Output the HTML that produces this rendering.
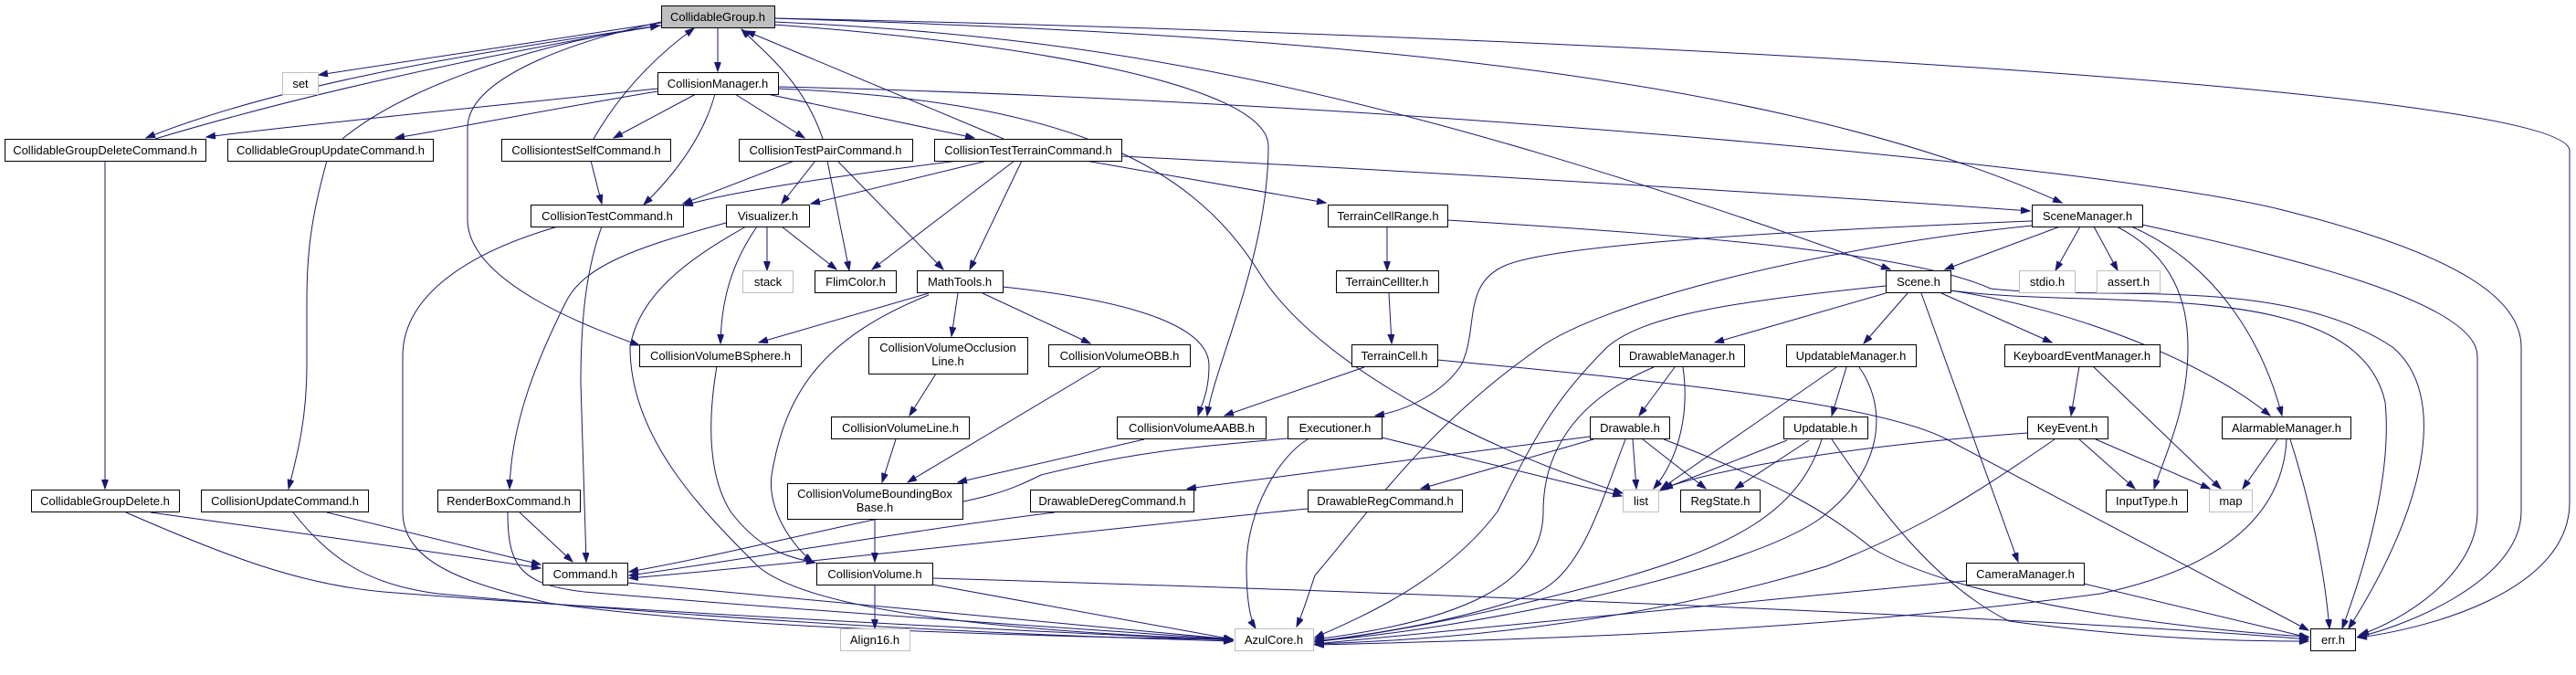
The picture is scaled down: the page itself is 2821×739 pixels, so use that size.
<!DOCTYPE html>
<html><head><meta charset="utf-8"><style>
html,body{margin:0;padding:0;background:#fff;}
svg{display:block;}
text{font-family:"Liberation Sans",sans-serif;font-size:13px;fill:#000;}
.n{fill:#fff;stroke:#000;stroke-width:1;}
.g{fill:#fff;stroke:#bfbfbf;stroke-width:1;}
.e{fill:none;stroke:#191970;stroke-width:1;marker-end:url(#a);}
</style></head><body>
<svg width="2821" height="739" viewBox="0 0 2821 739" xmlns="http://www.w3.org/2000/svg">
<defs><marker id="a" markerWidth="11" markerHeight="8" refX="10" refY="3.5" orient="auto" markerUnits="userSpaceOnUse"><path d="M0,0 L10,3.5 L0,7 z" fill="#191970" stroke="#191970"/></marker></defs>
<g>
<path class="e" d="M724,25 L349,82"/>
<path class="e" d="M724,28 C500,60 300,95 160,151"/>
<path class="e" d="M170,152 C310,110 500,65 722,28"/>
<path class="e" d="M786,30 L786,78"/>
<path class="e" d="M848,20 C1800,40 2814,100 2814,165 L2814,550 C2814,650 2650,690 2582,698"/>
<path class="e" d="M848,20 C1300,35 1900,60 2258,222"/>
<path class="e" d="M848,24 C1200,40 1500,90 2070,295"/>
<path class="e" d="M848,27 C1100,45 1389,90 1389,160 C1389,280 1330,400 1322,455"/>
<path class="e" d="M724,24 C650,40 512,80 512,140 L512,240 C512,310 650,360 700,378"/>
<path class="e" d="M720,97 C500,120 300,140 226,150"/>
<path class="e" d="M720,100 C600,120 500,140 433,151"/>
<path class="e" d="M375,152 C450,90 600,45 722,28"/>
<path class="e" d="M650,152 C680,100 720,60 760,31"/>
<path class="e" d="M762,103 L672,151"/>
<path class="e" d="M783,103 C770,150 740,190 705,224"/>
<path class="e" d="M647,176 L659,223"/>
<path class="e" d="M805,103 L881,151"/>
<path class="e" d="M840,103 L1067,151"/>
<path class="e" d="M852,95 C1500,110 2300,180 2500,230 C2700,280 2761,330 2761,380 L2761,560 C2761,640 2620,690 2582,697"/>
<path class="e" d="M852,97 C1150,110 1300,170 1380,300 C1450,410 1650,500 1777,540"/>
<path class="e" d="M901,152 C880,90 840,60 812,32"/>
<path class="e" d="M870,176 L748,223"/>
<path class="e" d="M893,176 L856,223"/>
<path class="e" d="M906,176 L930,296"/>
<path class="e" d="M917,176 L1033,295"/>
<path class="e" d="M1099,152 L817,34"/>
<path class="e" d="M1049,176 C900,195 800,210 749,225"/>
<path class="e" d="M1081,176 L888,223"/>
<path class="e" d="M1111,176 L955,295"/>
<path class="e" d="M1119,176 L1062,295"/>
<path class="e" d="M1189,176 L1452,222"/>
<path class="e" d="M1228,171 C1600,190 2000,215 2223,231"/>
<path class="e" d="M659,248 C640,300 636,360 636,420 C638,500 640,560 642,615"/>
<path class="e" d="M611,248 C500,280 441,330 441,390 L441,560 C441,620 520,640 600,660 C800,690 1200,698 1350,700"/>
<path class="e" d="M115,176 L115,535"/>
<path class="e" d="M358,176 C340,240 336,280 336,330 L336,400 C336,460 325,500 316,535"/>
<path class="e" d="M165,561 C300,580 450,600 592,622"/>
<path class="e" d="M138,561 C250,610 330,640 420,648 C700,670 1100,690 1350,701"/>
<path class="e" d="M358,561 L592,618"/>
<path class="e" d="M321,561 C360,610 400,640 480,650 C800,680 1100,695 1350,702"/>
<path class="e" d="M569,561 L627,615"/>
<path class="e" d="M556,561 C556,620 570,640 640,648 C900,670 1200,690 1350,700"/>
<path class="e" d="M687,638 L1350,700"/>
<path class="e" d="M795,244 C700,270 640,290 620,330 C590,390 560,460 558,535"/>
<path class="e" d="M840,248 L840,296"/>
<path class="e" d="M856,248 L916,295"/>
<path class="e" d="M829,248 C800,290 790,330 789,376"/>
<path class="e" d="M817,248 C760,280 700,320 690,380 C690,480 770,560 830,620 C900,680 1200,695 1350,700"/>
<path class="e" d="M1017,321 L831,375"/>
<path class="e" d="M1049,321 L1042,368"/>
<path class="e" d="M1076,321 L1194,376"/>
<path class="e" d="M1098,314 C1250,330 1324,360 1324,400 C1324,430 1315,445 1312,455"/>
<path class="e" d="M1017,323 C900,370 860,430 845,520 C840,560 870,600 890,615"/>
<path class="e" d="M1025,409 L996,455"/>
<path class="e" d="M981,481 L966,528"/>
<path class="e" d="M1205,402 L994,528"/>
<path class="e" d="M1253,481 L1049,528"/>
<path class="e" d="M958,568 L958,615"/>
<path class="e" d="M785,401 C775,460 775,520 800,560 C830,600 860,610 893,616"/>
<path class="e" d="M958,641 L958,688"/>
<path class="e" d="M1021,640 L1350,700"/>
<path class="e" d="M1021,633 C1600,650 2300,680 2528,700"/>
<path class="e" d="M1519,248 L1519,296"/>
<path class="e" d="M1585,241 C1900,260 2100,280 2180,316 C2300,330 2500,300 2620,380 C2680,430 2660,550 2572,688"/>
<path class="e" d="M2136,318 C2300,340 2580,300 2612,440 C2620,520 2590,620 2565,688"/>
<path class="e" d="M1521,321 L1524,376"/>
<path class="e" d="M1494,402 L1341,455"/>
<path class="e" d="M1574,394 C1800,415 2050,440 2130,480 L2528,690"/>
<path class="e" d="M2256,248 L2130,295"/>
<path class="e" d="M2278,248 L2251,296"/>
<path class="e" d="M2293,248 L2319,296"/>
<path class="e" d="M2318,248 C2380,280 2396,330 2396,380 C2396,450 2370,500 2359,535"/>
<path class="e" d="M2334,248 C2430,290 2480,380 2499,455"/>
<path class="e" d="M2346,246 C2500,280 2713,330 2713,390 L2713,560 C2713,630 2630,680 2584,695"/>
<path class="e" d="M2225,242 C1900,255 1700,270 1650,290 C1600,310 1620,360 1600,400 C1580,430 1540,450 1506,455"/>
<path class="e" d="M2225,247 C2000,270 1750,330 1680,385 C1560,470 1500,560 1440,630 C1430,660 1425,675 1420,686"/>
<path class="e" d="M2065,321 L1878,375"/>
<path class="e" d="M2089,321 L2041,376"/>
<path class="e" d="M2126,321 L2247,375"/>
<path class="e" d="M2104,321 L2210,615"/>
<path class="e" d="M2136,318 C2280,340 2420,400 2486,455"/>
<path class="e" d="M2065,313 C1900,330 1800,345 1760,380 C1700,440 1680,480 1640,560 C1580,640 1480,680 1440,698"/>
<path class="e" d="M1834,402 L1795,455"/>
<path class="e" d="M1843,402 C1850,450 1840,500 1811,535"/>
<path class="e" d="M1811,402 C1720,440 1690,500 1690,560 C1690,640 1600,680 1440,700"/>
<path class="e" d="M2022,402 L2006,455"/>
<path class="e" d="M2011,402 L1819,535"/>
<path class="e" d="M2036,402 C2070,450 2060,520 1990,570 C1900,630 1600,690 1440,702"/>
<path class="e" d="M1788,481 L1792,535"/>
<path class="e" d="M1799,481 L1868,535"/>
<path class="e" d="M1741,478 L1300,535"/>
<path class="e" d="M1745,481 L1556,535"/>
<path class="e" d="M1780,481 C1750,560 1730,630 1680,650 C1600,680 1500,695 1440,702"/>
<path class="e" d="M1822,481 C1950,530 2000,560 2050,600 C2150,660 2400,690 2528,697"/>
<path class="e" d="M1957,482 L1822,535"/>
<path class="e" d="M1981,482 L1900,535"/>
<path class="e" d="M1995,481 C1970,560 1900,600 1750,640 C1600,680 1500,695 1440,703"/>
<path class="e" d="M2006,481 C2060,560 2120,640 2200,680 C2350,700 2450,702 2528,702"/>
<path class="e" d="M2277,401 L2268,455"/>
<path class="e" d="M2292,401 L2432,535"/>
<path class="e" d="M2277,481 L2338,535"/>
<path class="e" d="M2295,481 L2420,535"/>
<path class="e" d="M2220,474 C2000,490 1850,520 1818,537"/>
<path class="e" d="M2250,481 C2150,550 2100,580 2000,620 C1800,680 1600,700 1440,705"/>
<path class="e" d="M2494,481 L2456,535"/>
<path class="e" d="M2508,481 C2530,550 2545,620 2551,688"/>
<path class="e" d="M2504,481 C2500,560 2440,620 2300,650 C2000,690 1700,700 1440,706"/>
<path class="e" d="M2153,636 C1900,660 1600,690 1440,705"/>
<path class="e" d="M2282,639 L2528,698"/>
<path class="e" d="M1513,479 L1776,543"/>
<path class="e" d="M1410,480 C1300,490 1240,495 1140,520 C1100,540 1080,545 1000,560 C900,580 780,610 689,626"/>
<path class="e" d="M1432,481 C1400,500 1365,560 1365,620 C1365,660 1370,680 1375,688"/>
<path class="e" d="M1155,561 C1000,580 800,615 689,630"/>
<path class="e" d="M1432,557 C1200,580 900,615 689,633"/>
</g>
<g text-anchor="middle">
<rect x="724.5" y="6.5" width="124" height="24" fill="#bfbfbf" stroke="#000"/><text x="786" y="23">CollidableGroup.h</text>
<rect class="g" x="309.5" y="79.5" width="39" height="24"/><text x="329" y="96">set</text>
<rect class="n" x="5.5" y="152.5" width="220" height="24"/><text x="115" y="169">CollidableGroupDeleteCommand.h</text>
<rect class="n" x="249.5" y="152.5" width="225" height="24"/><text x="362" y="169">CollidableGroupUpdateCommand.h</text>
<rect class="n" x="549.5" y="152.5" width="185" height="24"/><text x="642" y="169">CollisiontestSelfCommand.h</text>
<rect class="n" x="720.5" y="79.5" width="132" height="24"/><text x="786" y="96">CollisionManager.h</text>
<rect class="n" x="809.5" y="152.5" width="190" height="24"/><text x="904" y="169">CollisionTestPairCommand.h</text>
<rect class="n" x="1023.5" y="152.5" width="205" height="24"/><text x="1126" y="169">CollisionTestTerrainCommand.h</text>
<rect class="n" x="581.5" y="224.5" width="167" height="24"/><text x="665" y="241">CollisionTestCommand.h</text>
<rect class="n" x="795.5" y="224.5" width="91" height="24"/><text x="841" y="241">Visualizer.h</text>
<rect class="g" x="813.5" y="296.5" width="55" height="24"/><text x="841" y="313">stack</text>
<rect class="n" x="892.5" y="296.5" width="89" height="24"/><text x="937" y="313">FlimColor.h</text>
<rect class="n" x="1004.5" y="296.5" width="94" height="24"/><text x="1051" y="313">MathTools.h</text>
<rect class="n" x="700.5" y="377.5" width="177" height="24"/><text x="789" y="394">CollisionVolumeBSphere.h</text>
<rect class="n" x="951.5" y="369.5" width="174" height="40"/><text x="1038" y="385">CollisionVolumeOcclusion</text><text x="1038" y="400">Line.h</text>
<rect class="n" x="1148.5" y="377.5" width="155" height="24"/><text x="1226" y="394">CollisionVolumeOBB.h</text>
<rect class="n" x="910.5" y="456.5" width="151" height="24"/><text x="986" y="473">CollisionVolumeLine.h</text>
<rect class="n" x="1223.5" y="456.5" width="163" height="24"/><text x="1305" y="473">CollisionVolumeAABB.h</text>
<rect class="n" x="1410.5" y="456.5" width="103" height="24"/><text x="1462" y="473">Executioner.h</text>
<rect class="n" x="862.5" y="529.5" width="192" height="39"/><text x="958" y="545">CollisionVolumeBoundingBox</text><text x="958" y="560">Base.h</text>
<rect class="n" x="1128.5" y="536.5" width="179" height="24"/><text x="1218" y="553">DrawableDeregCommand.h</text>
<rect class="n" x="894.5" y="616.5" width="127" height="24"/><text x="958" y="633">CollisionVolume.h</text>
<rect class="g" x="920.5" y="688.5" width="76" height="24"/><text x="958" y="705">Align16.h</text>
<rect class="g" x="1352.5" y="688.5" width="86" height="24"/><text x="1395" y="705">AzulCore.h</text>
<rect class="n" x="1454.5" y="224.5" width="131" height="24"/><text x="1520" y="241">TerrainCellRange.h</text>
<rect class="n" x="1463.5" y="296.5" width="112" height="24"/><text x="1519" y="313">TerrainCellIter.h</text>
<rect class="n" x="1480.5" y="377.5" width="94" height="24"/><text x="1527" y="394">TerrainCell.h</text>
<rect class="n" x="2065.5" y="296.5" width="71" height="24"/><text x="2101" y="313">Scene.h</text>
<rect class="n" x="1773.5" y="377.5" width="137" height="24"/><text x="1842" y="394">DrawableManager.h</text>
<rect class="n" x="1956.5" y="377.5" width="142" height="24"/><text x="2027" y="394">UpdatableManager.h</text>
<rect class="n" x="1741.5" y="456.5" width="87" height="24"/><text x="1785" y="473">Drawable.h</text>
<rect class="n" x="1953.5" y="456.5" width="92" height="24"/><text x="1999" y="473">Updatable.h</text>
<rect class="n" x="1432.5" y="536.5" width="169" height="24"/><text x="1517" y="553">DrawableRegCommand.h</text>
<rect class="g" x="1777.5" y="536.5" width="39" height="24"/><text x="1797" y="553">list</text>
<rect class="n" x="1840.5" y="536.5" width="87" height="24"/><text x="1884" y="553">RegState.h</text>
<rect class="n" x="2225.5" y="224.5" width="121" height="24"/><text x="2286" y="241">SceneManager.h</text>
<rect class="g" x="2211.5" y="296.5" width="61" height="24"/><text x="2242" y="313">stdio.h</text>
<rect class="g" x="2296.5" y="296.5" width="69" height="24"/><text x="2331" y="313">assert.h</text>
<rect class="n" x="2195.5" y="377.5" width="170" height="24"/><text x="2280" y="394">KeyboardEventManager.h</text>
<rect class="n" x="2220.5" y="456.5" width="88" height="24"/><text x="2264" y="473">KeyEvent.h</text>
<rect class="n" x="2433.5" y="456.5" width="141" height="24"/><text x="2504" y="473">AlarmableManager.h</text>
<rect class="n" x="2306.5" y="536.5" width="89" height="24"/><text x="2351" y="553">InputType.h</text>
<rect class="g" x="2419.5" y="536.5" width="47" height="24"/><text x="2443" y="553">map</text>
<rect class="n" x="2153.5" y="616.5" width="129" height="24"/><text x="2218" y="633">CameraManager.h</text>
<rect class="n" x="2530.5" y="688.5" width="49" height="24"/><text x="2555" y="705">err.h</text>
<rect class="n" x="34.5" y="536.5" width="162" height="24"/><text x="115" y="553">CollidableGroupDelete.h</text>
<rect class="n" x="220.5" y="536.5" width="183" height="24"/><text x="312" y="553">CollisionUpdateCommand.h</text>
<rect class="n" x="479.5" y="536.5" width="156" height="24"/><text x="557" y="553">RenderBoxCommand.h</text>
<rect class="n" x="594.5" y="616.5" width="93" height="24"/><text x="641" y="633">Command.h</text>
</g>
</svg>
</body></html>
